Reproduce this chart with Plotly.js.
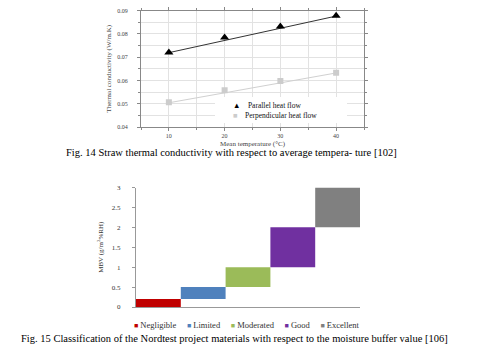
<!DOCTYPE html>
<html>
<head>
<meta charset="utf-8">
<script src="https://cdn.plot.ly/plotly-3.0.1.min.js"></script>
<style>html,body{margin:0;padding:0;background:#fff;}#chart{width:478px;height:354px;}</style>
</head>
<body>
<div id="chart"></div>
<script>
// ---- Fig. 14 data ----
const temperature = [10, 20, 30, 40];
const parallelK = [0.0720, 0.0784, 0.0831, 0.0878];
const perpendicularK = [0.0506, 0.0558, 0.0597, 0.0633];
const trendX = [10, 40];
const parallelTrend = [0.0719, 0.0876];
const perpendicularTrend = [0.0504, 0.0632];
const series14 = ["Parallel heat flow", "Perpendicular heat flow"];

// ---- Fig. 15 data ----
const mbvClasses = ["Negligible", "Limited", "Moderated", "Good", "Excellent"];
const mbvLow = [0, 0.2, 0.5, 1, 2];
const mbvHigh = [0.2, 0.5, 1, 2, 3];
const mbvColors = ["#C00000", "#4F81BD", "#9BBB59", "#7030A0", "#808080"];

const W = 478, H = 354;
const px = x => x / W;
const py = y => 1 - y / H;
const serif = "Liberation Serif, Times New Roman, serif";

const traces = [
  {x: trendX, y: parallelTrend, mode: "lines", line: {color: "#333333", width: 1}, xaxis: "x", yaxis: "y", showlegend: false, hoverinfo: "skip"},
  {x: trendX, y: perpendicularTrend, mode: "lines", line: {color: "#d0d0d0", width: 1}, xaxis: "x", yaxis: "y", showlegend: false, hoverinfo: "skip"},
  {x: temperature, y: parallelK, name: series14[0], mode: "markers", marker: {symbol: "triangle-up", size: 8, color: "#000000"}, xaxis: "x", yaxis: "y", showlegend: false},
  {x: temperature, y: perpendicularK, name: series14[1], mode: "markers", marker: {symbol: "square", size: 6, color: "#cccccc"}, xaxis: "x", yaxis: "y", showlegend: false}
];
mbvClasses.forEach((c, i) => {
  traces.push({
    type: "bar", x: [c], y: [mbvHigh[i] - mbvLow[i]], base: [mbvLow[i]], width: 1,
    marker: {color: mbvColors[i], line: {width: 0}}, name: c, xaxis: "x2", yaxis: "y2", showlegend: false
  });
});

const legendTop = "<span style='color:#000'>▲</span>    " + series14[0] +
  "<br><span style='color:#cccccc'>■</span>    " + series14[1];
const gap = "\u00a0\u00a0\u00a0\u00a0\u00a0";
const legendBottom = mbvClasses.map((c, i) =>
  "<span style='color:" + mbvColors[i] + ";font-size:7px'>■</span>\u00a0" + c).join(gap);

const layout = {
  width: W, height: H,
  margin: {l: 0, r: 0, t: 0, b: 0},
  paper_bgcolor: "#ffffff", plot_bgcolor: "#ffffff",
  barmode: "overlay",
  showlegend: false,
  font: {family: serif, color: "#000"},
  xaxis: {
    domain: [px(141), px(364)], range: [5, 45], anchor: "y",
    tickvals: temperature, ticks: "outside", ticklen: 3, tickcolor: "#888",
    showline: true, linecolor: "#888", linewidth: 1, mirror: "ticks",
    showgrid: true, gridcolor: "#e2e2e2", zeroline: false,
    minor: {dtick: 5, showgrid: true, gridcolor: "#e2e2e2", ticks: "outside", ticklen: 2, tickcolor: "#888"},
    tickfont: {size: 6, color: "#444"},
    title: {text: "Mean temperature (°C)", font: {size: 7, color: "#444"}, standoff: 2}
  },
  yaxis: {
    domain: [py(127), py(10.5)], range: [0.04, 0.09], anchor: "x",
    dtick: 0.01, tickformat: ".2f", ticks: "outside", ticklen: 3, tickcolor: "#888",
    showline: true, linecolor: "#888", linewidth: 1, mirror: "ticks",
    showgrid: true, gridcolor: "#e2e2e2", zeroline: false,
    minor: {dtick: 0.005, showgrid: true, gridcolor: "#e2e2e2", ticks: "outside", ticklen: 2, tickcolor: "#888"},
    tickfont: {size: 6, color: "#444"}, ticklabelstandoff: 8,
    title: {text: "Thermal conductivity (W/m.K)", font: {size: 7, color: "#444"}, standoff: 4}
  },
  xaxis2: {
    domain: [px(136), px(360)], range: [-0.5, 4.5], anchor: "y2", type: "category",
    showticklabels: false, ticks: "", showline: true, linecolor: "#999", showgrid: false, zeroline: false
  },
  yaxis2: {
    domain: [py(307), py(187.5)], range: [0, 3], anchor: "x2",
    dtick: 0.5, ticks: "outside", ticklen: 3, tickcolor: "#999",
    showline: true, linecolor: "#999", showgrid: false, zeroline: false,
    tickfont: {size: 7, color: "#333"}, ticklabelstandoff: 10,
    title: {text: "MBV (g/m<sup>2</sup>%RH)", font: {size: 7, color: "#333"}, standoff: 7}
  },
  shapes: [
    {type: "rect", xref: "paper", yref: "paper", x0: px(215), x1: px(347), y0: py(123), y1: py(97),
     fillcolor: "#ffffff", line: {width: 0}, layer: "above"}
  ],
  annotations: [
    {xref: "paper", yref: "paper", x: px(231), y: py(99), xanchor: "left", yanchor: "top", align: "left",
     text: legendTop, showarrow: false, font: {size: 7.5, color: "#111"}},
    {xref: "paper", yref: "paper", x: px(247), y: py(325), xanchor: "center", yanchor: "middle",
     text: legendBottom, showarrow: false, font: {size: 8.5, color: "#333"}},
    {xref: "paper", yref: "paper", x: px(231), y: py(152), xanchor: "center", yanchor: "middle",
     text: "Fig. 14 Straw thermal conductivity with respect to average tempera- ture [102]", showarrow: false,
     font: {size: 10.5, color: "#000"}},
    {xref: "paper", yref: "paper", x: px(234), y: py(338), xanchor: "center", yanchor: "middle",
     text: "Fig. 15 Classification of the Nordtest project materials with respect to the moisture buffer value [106]", showarrow: false,
     font: {size: 10.5, color: "#000"}}
  ]
};

Plotly.newPlot("chart", traces, layout, {staticPlot: true, displayModeBar: false});
</script>
</body>
</html>
